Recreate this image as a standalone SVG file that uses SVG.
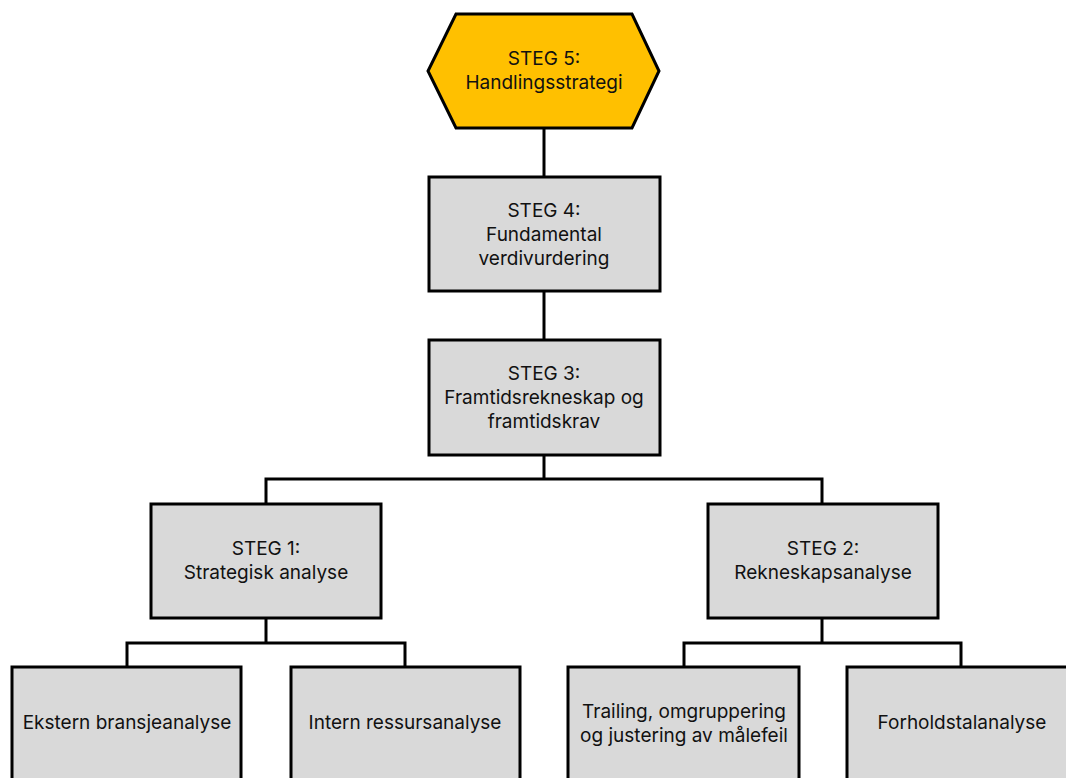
<svg xmlns="http://www.w3.org/2000/svg" width="1066" height="778" viewBox="0 0 1066 778">
  <style>
    .box { fill: #d9d9d9; stroke: #000; stroke-width: 3; }
    .hex { fill: #ffc000; stroke: #000; stroke-width: 3; stroke-linejoin: miter; }
    .link { fill: none; stroke: #000; stroke-width: 3; }
    text { font-family: Inter, "Liberation Sans", Arial, sans-serif; font-size: 19px; fill: #111; text-anchor: middle; }
  </style>
  <rect width="1066" height="778" fill="#fff"/>

  <g id="connectors">
    <line class="link" x1="544" y1="128" x2="544" y2="177"/>
    <line class="link" x1="544" y1="291" x2="544" y2="340"/>
    <polyline class="link" points="266,504 266,479 822,479 822,504"/>
    <line class="link" x1="544" y1="455" x2="544" y2="479"/>
    <polyline class="link" points="127,667 127,643 405,643 405,667"/>
    <line class="link" x1="266" y1="618" x2="266" y2="643"/>
    <polyline class="link" points="684,667 684,643 961,643 961,667"/>
    <line class="link" x1="822" y1="618" x2="822" y2="643"/>
  </g>

  <g id="steg5">
    <polygon class="hex" points="456,14 632,14 659,71 632,128 456,128 428,71"/>
    <text x="544" y="65">STEG 5:</text>
    <text x="544" y="89">Handlingsstrategi</text>
  </g>

  <g id="steg4">
    <rect class="box" x="429" y="177" width="231" height="114"/>
    <text x="544" y="217">STEG 4:</text>
    <text x="544" y="241">Fundamental</text>
    <text x="544" y="265">verdivurdering</text>
  </g>

  <g id="steg3">
    <rect class="box" x="429" y="340" width="231" height="115"/>
    <text x="544" y="380">STEG 3:</text>
    <text x="544" y="404">Framtidsrekneskap og</text>
    <text x="544" y="428">framtidskrav</text>
  </g>

  <g id="steg1">
    <rect class="box" x="151" y="504" width="230" height="114"/>
    <text x="266" y="555">STEG 1:</text>
    <text x="266" y="579">Strategisk analyse</text>
  </g>

  <g id="steg2">
    <rect class="box" x="708" y="504" width="230" height="114"/>
    <text x="823" y="555">STEG 2:</text>
    <text x="823" y="579">Rekneskapsanalyse</text>
  </g>

  <g id="ekstern">
    <rect class="box" x="12" y="667" width="229" height="120"/>
    <text x="127" y="729">Ekstern bransjeanalyse</text>
  </g>

  <g id="intern">
    <rect class="box" x="291" y="667" width="229" height="120"/>
    <text x="405" y="729">Intern ressursanalyse</text>
  </g>

  <g id="trailing">
    <rect class="box" x="568" y="667" width="231" height="120"/>
    <text x="684" y="718">Trailing, omgruppering</text>
    <text x="684" y="742">og justering av målefeil</text>
  </g>

  <g id="forhold">
    <rect class="box" x="847" y="667" width="231" height="120"/>
    <text x="962" y="729">Forholdstalanalyse</text>
  </g>
</svg>
